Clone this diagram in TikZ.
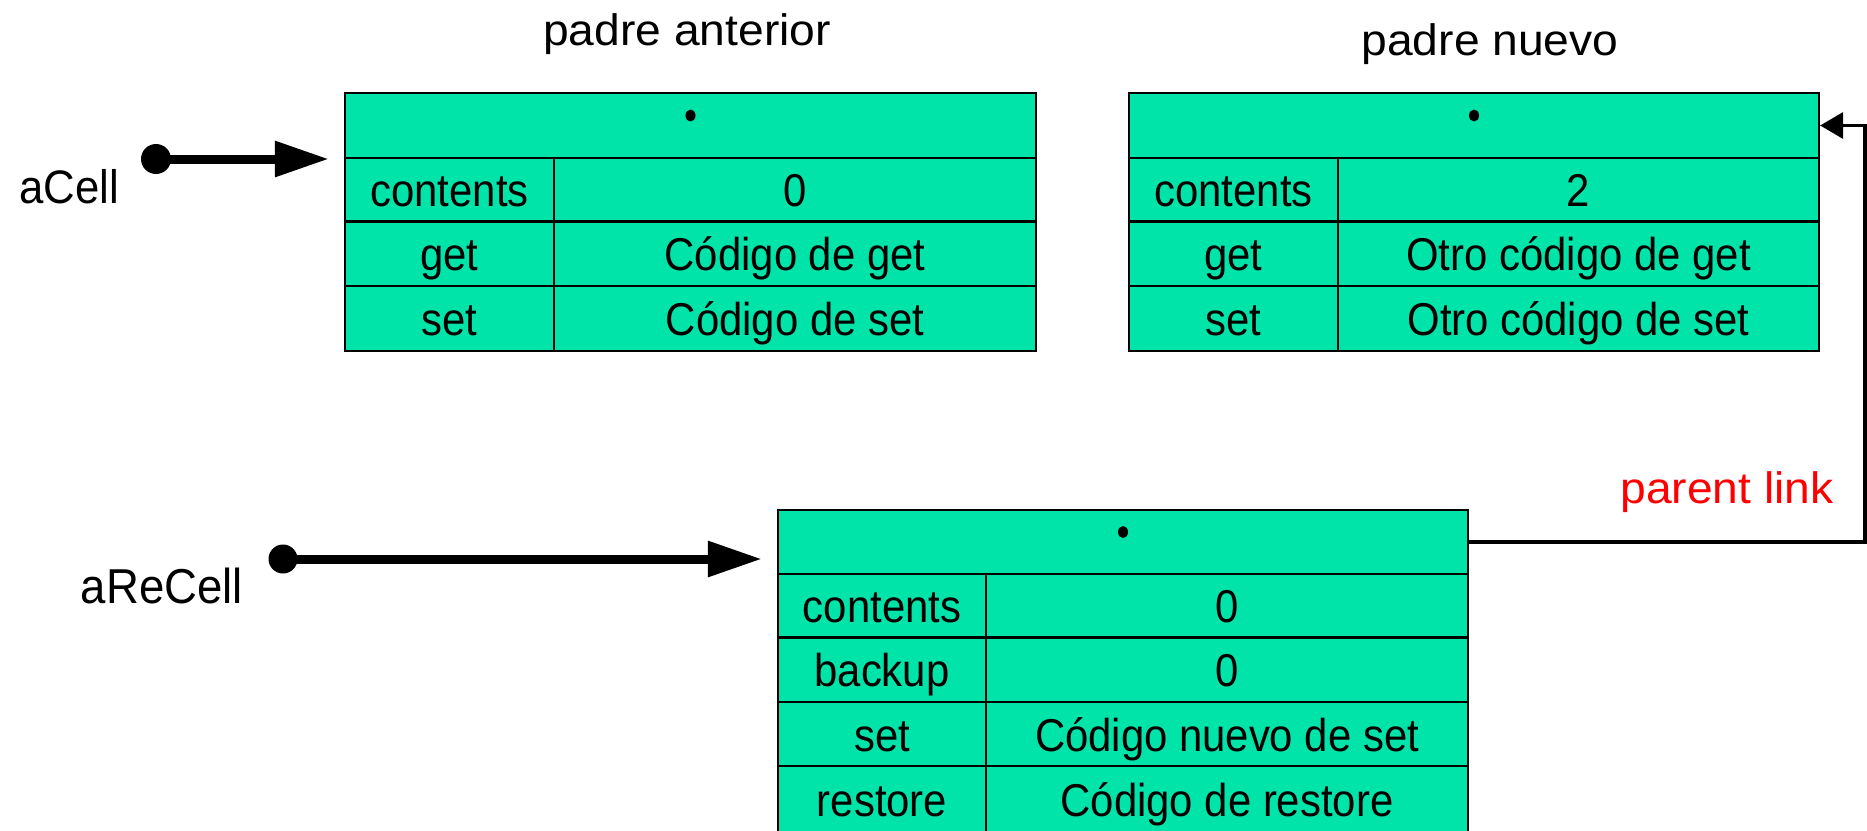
\documentclass[tikz,border=0pt]{standalone}
\usepackage{fontspec}
\setmainfont{Liberation Sans}
\newfontfamily\cellfont{Liberation Sans}[FakeStretch=0.91]
\newfontfamily\labfont{Liberation Sans}[FakeStretch=1.05]
\newfontfamily\varfont{Liberation Sans}[FakeStretch=0.93]
\usetikzlibrary{arrows.meta}
\definecolor{objfill}{RGB}{0,228,170}
\definecolor{linkred}{RGB}{255,0,0}

% one field of an object: key cell and value cell
% #1 name, #2 left, #3 divider, #4 right, #5 top, #6 bottom, #7 key, #8 value
\newcommand{\fieldrow}[8]{%
  \node[cellbox, minimum width={(#3-#2)*1pt}, minimum height={(#6-#5)*1pt}]
    (#1k) at ({(#2+#3)/2},{(#5+#6)/2}) {#7};
  \node[cellbox, minimum width={(#4-#3)*1pt}, minimum height={(#6-#5)*1pt}]
    (#1v) at ({(#3+#4)/2},{(#5+#6)/2}) {#8};
}

\tikzset{
  cellbox/.style={draw, fill=objfill, line width=2.2pt, inner sep=0pt,
    text height=34pt, text depth=0pt, anchor=center,
    font=\cellfont\fontsize{46pt}{55pt}\selectfont},
  headbox/.style={cellbox, minimum height=65pt},
  lbl/.style={font=\labfont\fontsize{44pt}{53pt}\selectfont, anchor=base, inner sep=0pt},
  refdot/.style={circle, fill=black, inner sep=0pt, minimum size=30pt},
  ptr/.style={line width=9pt, -{Triangle[length=54pt,width=34pt]}, shorten >=15pt},
  link/.style={line width=3.5pt, -{Triangle[length=23pt,width=26pt]}},
}

\begin{document}
\begin{tikzpicture}[x=1pt,y=-1pt]
\useasboundingbox (0,0) rectangle (1867,830);
\clip (0,0) rectangle (1867,830);

% titles
\node[lbl] (tit1) at (687,45) {padre anterior};
\node[lbl] (tit2) at (1490,55) {padre nuevo};

% object: padre anterior
\node[headbox, minimum width=691pt] (h1) at (690.5,125.5) {};
\fill ([yshift=10pt]h1.center) ellipse [x radius=5pt, y radius=6pt];
\fieldrow{a1}{345}{554}{1036}{158}{221.5}{contents}{0}
\fieldrow{a2}{345}{554}{1036}{221.5}{286}{get}{Código de get}
\fieldrow{a3}{345}{554}{1036}{286}{351}{set}{Código de set}

% object: padre nuevo
\node[headbox, minimum width=690pt] (h2) at (1474,125.5) {};
\fill ([yshift=10pt]h2.center) ellipse [x radius=5pt, y radius=6pt];
\fieldrow{b1}{1129}{1338}{1819}{158}{221.5}{contents}{2}
\fieldrow{b2}{1129}{1338}{1819}{221.5}{286}{get}{Otro código de get}
\fieldrow{b3}{1129}{1338}{1819}{286}{351}{set}{Otro código de set}

% object: aReCell
\node[headbox, minimum width=690pt, minimum height=64pt] (h3) at (1123,542) {};
\fill ([yshift=10pt]h3.center) ellipse [x radius=5pt, y radius=6pt];
\fieldrow{c1}{778}{986}{1468}{574}{637.5}{contents}{0}
\fieldrow{c2}{778}{986}{1468}{637.5}{702}{backup}{0}
\fieldrow{c3}{778}{986}{1468}{702}{766}{set}{Código nuevo de set}
\fieldrow{c4}{778}{986}{1468}{766}{833}{restore}{Código de restore}

% variables
\node[lbl, font=\varfont\fontsize{47pt}{56pt}\selectfont] (v1) at (69,203) {aCell};
\node[refdot] (d1) at (156,159) {};
\draw[ptr] (d1.center) -- (d1 -| h1.west);

\node[lbl, font=\varfont\fontsize{49pt}{58pt}\selectfont] (v2) at (162,603) {aReCell};
\node[refdot, minimum size=29pt] (d2) at (283,559) {};
\draw[ptr] (d2.center) -- (d2 -| h3.west);

% parent link
\coordinate (bend) at (1865,542);
\draw[link] (h3.east) -- (bend) |- (h2.east);
\node[lbl, text=linkred] (pl) at (1727,503) {parent link};
\end{tikzpicture}
\end{document}
